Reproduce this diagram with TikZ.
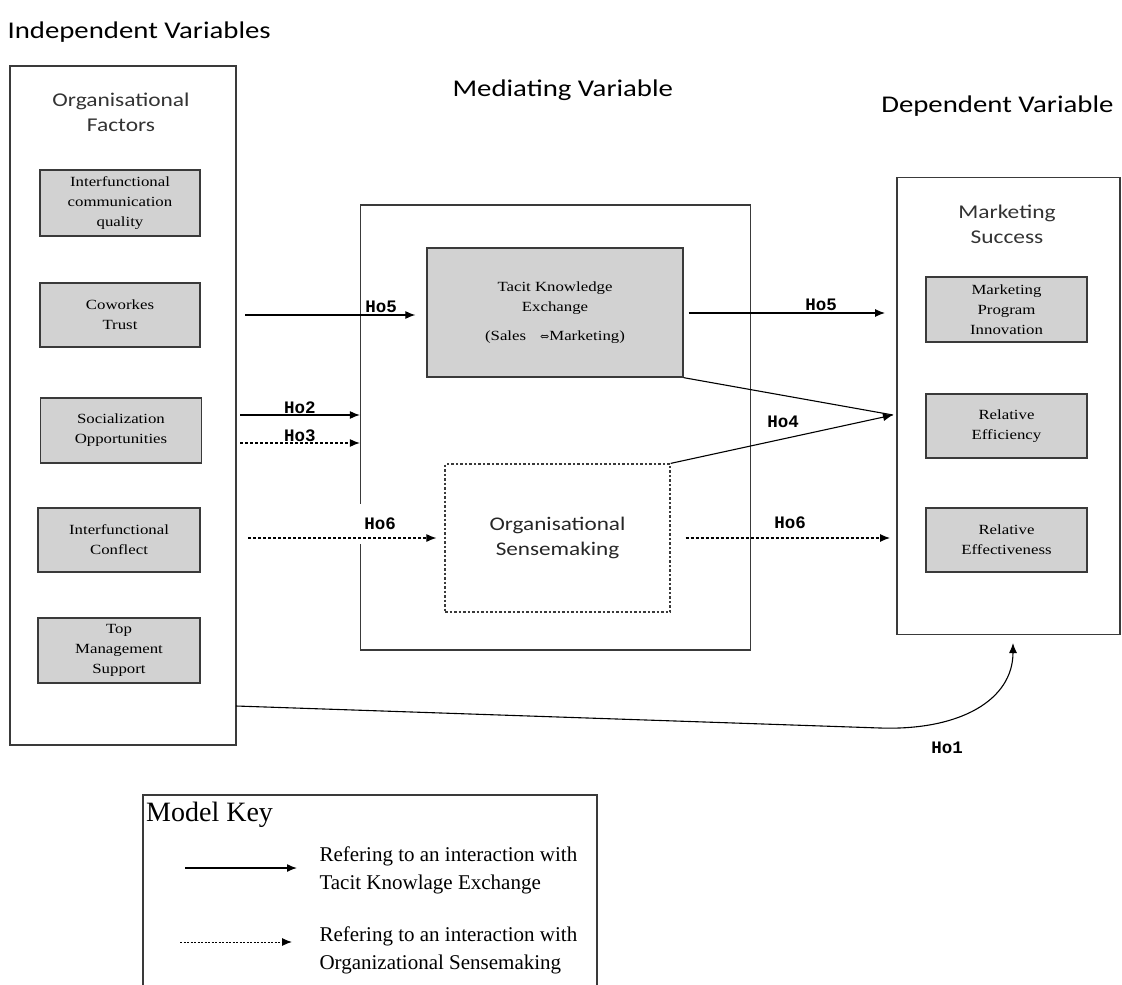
\documentclass[tikz,border=0pt]{standalone}
\usepackage{fontspec}
\setmainfont{Liberation Serif}
\newfontfamily\serw[FakeStretch=1.2]{Liberation Serif}
\newfontfamily\calw[FakeStretch=1.2]{Carlito}
\newfontfamily\hofont{Liberation Mono}
\newfontfamily\arr{DejaVu Serif}
\usetikzlibrary{arrows.meta}
\definecolor{boxgrey}{HTML}{D2D2D2}
\definecolor{edge}{HTML}{3A3A3A}
\begin{document}
\begin{tikzpicture}[x=1pt,y=-1pt,
  outer/.style={draw=edge,line width=1.3pt,minimum width=#1},
  greybox/.style={draw=edge,line width=1.3pt,fill=boxgrey,minimum width=161pt,minimum height=65pt,align=center,font=\serw\fontsize{14}{20}\selectfont,inner sep=0pt},
  title/.style={align=center,font=\calw\fontsize{19.5}{25}\selectfont,text=black!80},
  header/.style={font=\calw\fontsize{24}{28}\selectfont},
  holab/.style={font=\hofont\bfseries\fontsize{17.5}{17.5}\selectfont,inner sep=1pt},
  conn/.style={line width=1.1pt,-{Latex[length=10pt,width=8pt]}},
  dotconn/.style={conn,dash pattern=on 3pt off 2pt},
  keytext/.style={anchor=west,align=left,font=\fontsize{21}{28}\selectfont},
]
\useasboundingbox (0,0) rectangle (1122,985);

% headers
\node[header,anchor=west] (hind) at (4,32) {Independent Variables};
\node[header,anchor=west] (hmed) at (449,90) {Mediating Variable};
\node[header,anchor=east] (hdep) at (1117,106) {Dependent Variable};

% left column
\node[outer=226pt,minimum height=679pt] (lf) at (123,405.5) {};
\node[title] (lft) at (121,112) {Organisational\\Factors};
\node[greybox,minimum width=160pt,minimum height=66pt] (b1) at (120,203) {Interfunctional\\communication\\quality};
\node[greybox,minimum width=160pt,minimum height=64pt] (b2) at (120,315) {Coworkes\\Trust};
\node[greybox] (b3) at (121,430.5) {Socialization\\Opportunities};
\node[greybox,minimum width=162pt,minimum height=64pt] (b4) at (119,540) {Interfunctional\\Conflect};
\node[greybox,minimum width=162pt] (b5) at (119,650.5) {Top\\Management\\Support};

% middle
\node[outer=390pt,minimum height=445pt] (mid) at (555.5,427.5) {};
\node[greybox,minimum width=256pt,minimum height=129pt] (tke) at (555,312.5) {Tacit Knowledge\\Exchange\\[9pt](Sales\quad{\arr\fontsize{11}{11}\selectfont⇔}Marketing)};
\node[draw=edge,line width=1.2pt,dash pattern=on 2.5pt off 2pt,minimum width=225pt,minimum height=148pt,align=center,font=\calw\fontsize{19.3}{25}\selectfont,text=black!85] (osm) at (557.5,538) {Organisational\\Sensemaking};

% right column
\node[outer=223pt,minimum height=457pt] (rt) at (1008.5,406) {};
\node[title] (rtt) at (1007,224) {Marketing\\Success};
\node[greybox] (r1) at (1006.5,309.5) {Marketing\\Program\\Innovation};
\node[greybox,minimum height=64pt] (r2) at (1006.5,426) {Relative\\Efficiency};
\node[greybox,minimum height=64pt] (r3) at (1006.5,540) {Relative\\Effectiveness};

% connector endpoints
\coordinate (s5) at (245,315);
\coordinate (s2) at (240,415);
\coordinate (s3) at (240,443);
\coordinate (s6) at (248,538);
\coordinate (e5) at (885,313);
\coordinate (e4) at (893,415);
\coordinate (e6) at (890,538);
\coordinate (s1) at (236,706);
\coordinate (k1) at (880,728);
\coordinate (e1) at (1013,643);

% Ho5
\draw[conn,shorten >=11pt] (s5) -- (s5 -| tke.west);
\node[holab,above=1pt] (l5a) at (381,315) {Ho5};
\draw[conn,shorten <=5pt] (tke.east |- e5) -- (e5);
\node[holab,above=1pt] (l5b) at (821,313) {Ho5};
% Ho2, Ho3
\draw[conn] (s2) -- (s2 -| mid.west) node[holab,midway,above=0pt] (l2) {Ho2};
\draw[dotconn] (s3) -- (s3 -| mid.west) node[holab,midway,above=0pt] (l3) {Ho3};
% Ho4
\draw[line width=1.1pt] (tke.south east) -- (e4);
\draw[conn] (osm.north east) -- (e4);
\node[holab] (l4) at (783,422) {Ho4};
% Ho6
\node[holab,fill=white,inner xsep=7pt,minimum height=40pt] (l6a) at (380,524) {Ho6};
\draw[dotconn,shorten >=8pt] (s6) -- (s6 -| osm.west);
\draw[dotconn,shorten <=15pt] (osm.east |- e6) -- (e6);
\node[holab] (l6b) at (790,523) {Ho6};
% Ho1
\draw[conn] (s1) -- (k1) .. controls (960,730.7) and (1013,700) .. (e1);
\node[holab] (l1) at (947,748) {Ho1};

% Model key
\draw[line width=1.3pt,draw=edge] (143,990) -- (143,795) -- (597,795) -- (597,990);
\node[anchor=west,font=\fontsize{28}{28}\selectfont,inner sep=0pt] (mk) at (146,815) {Model Key};
\coordinate (ka1) at (185,868);
\coordinate (kb1) at (297,868);
\coordinate (ka2) at (180,942);
\coordinate (kb2) at (292,942);
\draw[conn,line width=1.4pt] (ka1) -- (kb1);
\draw[dotconn,line width=1pt,dash pattern=on 2pt off 1.5pt] (ka2) -- (kb2);
\node[keytext] (kt1) at (316,870) {Refering to an interaction with\\Tacit Knowlage Exchange};
\node[keytext] (kt2) at (316,950) {Refering to an interaction with\\Organizational Sensemaking};
\end{tikzpicture}
\end{document}
